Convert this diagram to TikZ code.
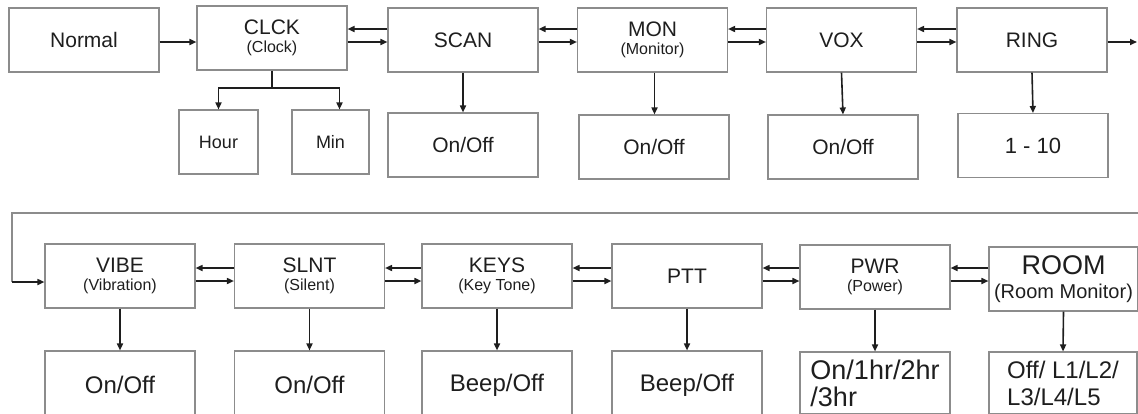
\documentclass[tikz,border=0pt]{standalone}
\usepackage{fontspec}
\setmainfont{Liberation Sans}
\usetikzlibrary{arrows.meta}
\definecolor{boxgray}{HTML}{8C8C8C}
\definecolor{ink}{HTML}{1E1E1E}
\newcommand{\subttl}[1]{{\fontsize{16}{18}\selectfont #1}}

\begin{document}
\begin{tikzpicture}[x=1pt, y=-1pt,
		b/.style = {rectangle, draw=boxgray, line width=1.1pt, minimum width=150pt, minimum height=64pt, inner sep=0pt, align=center, text=ink, font=\fontsize{21}{18}\selectfont},
		o/.style = {b, minimum height=68pt, font=\fontsize{24}{28}\selectfont},
		r/.style = {-{Triangle[length=7pt,width=6pt]}, line width=1.6pt, draw=ink},
		g/.style = {draw=boxgray, line width=1.1pt}
		]
		\useasboundingbox (0,0) rectangle (1138,413);
		\clip (0,0) rectangle (1138,413);
		
		%Nodes (first row)
		\node[b]	(normal)	at	(84,40)		{Normal};
		\node[b]	(clck)		at	(272,38)	{CLCK\\\subttl{(Clock)}};
		\node[b]	(scan)		at	(463,40)	{SCAN};
		\node[b]	(mon)		at	(652.5,40)	{MON\\\subttl{(Monitor)}};
		\node[b]	(vox)		at	(841.5,40)	{VOX};
		\node[b]	(ring)		at	(1032,40)	{RING};
		\node[b, minimum width=79pt, font=\fontsize{18}{20}\selectfont]	(hour)	at	(218.5,142)	{Hour};
		\node[b, minimum width=77pt, font=\fontsize{18}{20}\selectfont]	(min)	at	(330.5,142)	{Min};
		\node[b]	(scanset)	at	(463,145)	{On/Off};
		\node[b]	(monset)	at	(654,147)	{On/Off};
		\node[b]	(voxset)	at	(843,147)	{On/Off};
		\node[b, font=\fontsize{22}{24}\selectfont]	(ringset)	at	(1033,145.5)	{1 - 10};
		
		%Nodes (second row)
		\node[b]	(vibe)		at	(120,276)	{VIBE\\\subttl{(Vibration)}};
		\node[b]	(slnt)		at	(309.5,276)	{SLNT\\\subttl{(Silent)}};
		\node[b]	(keys)		at	(497,276)	{KEYS\\\subttl{(Key Tone)}};
		\node[b]	(ptt)		at	(687,276)	{PTT};
		\node[b]	(pwr)		at	(875,277)	{PWR\\\subttl{(Power)}};
		\node[b, minimum width=149pt, font=\fontsize{27}{24}\selectfont]	(room)	at	(1063.5,279)	{ROOM\\{\fontsize{20}{24}\selectfont (Room Monitor)}};
		\node[o]	(vibeset)	at	(120,385)	{On/Off};
		\node[o]	(slntset)	at	(309.5,385)	{On/Off};
		\node[o]	(keysset)	at	(497,385)	{Beep/Off};
		\node[o]	(pttset)	at	(687,385)	{Beep/Off};
		\node[o, minimum height=62pt, align=left, font=\fontsize{27}{27}\selectfont]	(pwrset)	at	(875,383)	{On/1hr/2hr\\/3hr};
		\node[o, minimum height=62pt, minimum width=148pt, align=left, font=\fontsize{24}{27}\selectfont]	(roomset)	at	(1063,383)	{Off/ L1/L2/\\L3/L4/L5};
		
		%Coordinates
		\coordinate	(split)		at	(272,88);
		\coordinate	(edge)		at	(1137,42);
		\coordinate	(wrapr)		at	(1138,213);
		\coordinate	(wrapl)		at	(12,213);
		\coordinate	(wrapd)		at	(12,282);
		
		%Lines (first row)
		\draw[r]	(normal.east |- 0,42)	--	(clck.west |- 0,42);
		\draw[r]	(scan.west |- 0,29)		--	(clck.east |- 0,29);
		\draw[r]	(clck.east |- 0,42)		--	(scan.west |- 0,42);
		\draw[r]	(mon.west |- 0,29)		--	(scan.east |- 0,29);
		\draw[r]	(scan.east |- 0,42)		--	(mon.west |- 0,42);
		\draw[r]	(vox.west |- 0,29)		--	(mon.east |- 0,29);
		\draw[r]	(mon.east |- 0,42)		--	(vox.west |- 0,42);
		\draw[r]	(ring.west |- 0,29)		--	(vox.east |- 0,29);
		\draw[r]	(vox.east |- 0,42)		--	(ring.west |- 0,42);
		\draw[r]	(ring.east |- 0,42)		--	(edge);
		\draw[r]	(clck.south)	--	(split)	-|	(hour.north);
		\draw[r]	(split)	-|	([xshift=9pt]min.north);
		\draw[r]	(scan.south)	--	(scanset.north);
		\draw[r]	([xshift=2pt]mon.south)	--	([xshift=0.5pt]monset.north);
		\draw[r]	(vox.south)	--	(voxset.north);
		\draw[r]	(ring.south)	--	(ringset.north);
		
		%Lines (second row)
		\draw[g]	(wrapr)	--	(wrapl)	--	(wrapd);
		\draw[r]	(wrapd)	--	(vibe.west |- wrapd);
		\draw[r]	(slnt.west |- 0,268)	--	(vibe.east |- 0,268);
		\draw[r]	(vibe.east |- 0,281)	--	(slnt.west |- 0,281);
		\draw[r]	(keys.west |- 0,268)	--	(slnt.east |- 0,268);
		\draw[r]	(slnt.east |- 0,281)	--	(keys.west |- 0,281);
		\draw[r]	(ptt.west |- 0,268)		--	(keys.east |- 0,268);
		\draw[r]	(keys.east |- 0,281)	--	(ptt.west |- 0,281);
		\draw[r]	(pwr.west |- 0,268)		--	(ptt.east |- 0,268);
		\draw[r]	(ptt.east |- 0,281)		--	(pwr.west |- 0,281);
		\draw[r]	(room.west |- 0,268)	--	(pwr.east |- 0,268);
		\draw[r]	(pwr.east |- 0,281)		--	(room.west |- 0,281);
		\draw[r]	(vibe.south)	--	(vibeset.north);
		\draw[r]	(slnt.south)	--	(slntset.north);
		\draw[r]	(keys.south)	--	(keysset.north);
		\draw[r]	(ptt.south)		--	(pttset.north);
		\draw[r]	(pwr.south)		--	(pwrset.north);
		\draw[r]	(room.south)	--	(roomset.north);
	\end{tikzpicture}
\end{document}
